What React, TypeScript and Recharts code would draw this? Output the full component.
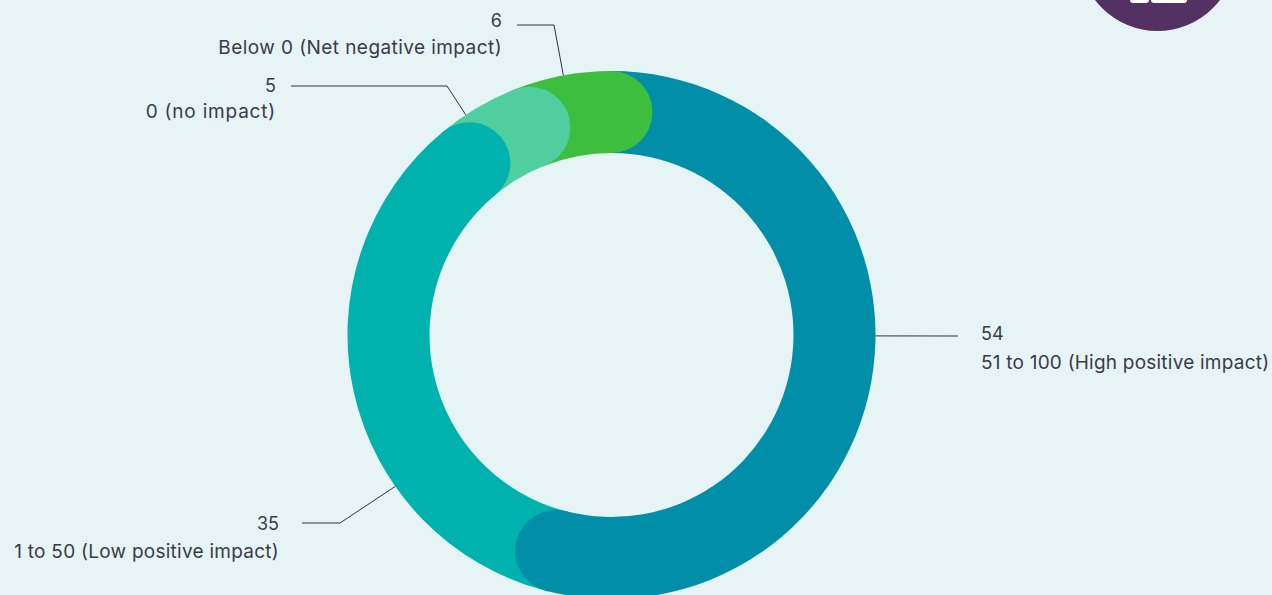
import { Pie, PieChart } from "recharts";

const impactLabels = [
  "51 to 100 (High positive impact)",
  "1 to 50 (Low positive impact)",
  "0 (no impact)",
  "Below 0 (Net negative impact)",
];
const impactValues = [54, 35, 5, 6];
const impactColors = ["#018ea8", "#00b2ae", "#51ce9f", "#3dbe3f"];

const WIDTH = 1272;
const HEIGHT = 595;
const CX = 611.5;
const CY = 335;
const INNER_RADIUS = 182;
const OUTER_RADIUS = 264;
const FONT = "Inter, sans-serif";
const TEXT_COLOR = "#3b3b47";

const chartData = impactLabels.map((name, i) => ({
  name,
  value: impactValues[i],
  fill: impactColors[i],
}));

// leader angle is in degrees clockwise from 12 o'clock
const labelLayouts = [
  { leaderAngle: 90.2, elbow: [958, 336], end: [958, 336], textX: 981, anchor: "start", valueY: 340, nameY: 369, nameSpacing: 0.22 },
  { leaderAngle: 235, elbow: [340, 523], end: [302, 523], textX: 279, anchor: "end", valueY: 530, nameY: 558, nameSpacing: 0.26 },
  { leaderAngle: 326.5, elbow: [447, 86], end: [291, 86], textX: 276, anchor: "end", valueY: 92, nameY: 118, nameSpacing: 0.8 },
  { leaderAngle: 349.5, elbow: [554, 25], end: [517, 25], textX: 502, anchor: "end", valueY: 27, nameY: 54, nameSpacing: 0.43 },
];

const toPoint = (cx: number, cy: number, radius: number, clockwiseDeg: number) => {
  const rad = (clockwiseDeg * Math.PI) / 180;
  return [cx + radius * Math.sin(rad), cy - radius * Math.cos(rad)];
};

// round end of a slice: a half disc past the end angle, with a sliver of overlap
// back into its own slice so no seam shows along the join
function RoundCap(props: any) {
  const { cx, cy, innerRadius, outerRadius, endAngle, fill } = props;
  const r = (outerRadius - innerRadius) / 2;
  const end = 90 - endAngle;
  const [ox, oy] = toPoint(cx, cy, outerRadius, end);
  const [ix, iy] = toPoint(cx, cy, innerRadius, end);
  const [obx, oby] = toPoint(cx, cy, outerRadius, end - 0.6);
  const [ibx, iby] = toPoint(cx, cy, innerRadius, end - 0.6);
  return (
    <path
      d={`M${obx},${oby} L${ox},${oy} A${r},${r} 0 0 1 ${ix},${iy} L${ibx},${iby} Z`}
      fill={fill}
    />
  );
}

function LeaderLabel(props: any) {
  const { cx, cy, outerRadius, index, name, value } = props;
  const layout = labelLayouts[index];
  const start = toPoint(cx, cy, outerRadius, layout.leaderAngle);
  const points = [start, layout.elbow, layout.end].map((p) => p.join(",")).join(" ");
  return (
    <g>
      <polyline points={points} fill="none" stroke="#33333f" strokeWidth={1} />
      <text x={layout.textX} y={layout.valueY} textAnchor={layout.anchor} fontFamily={FONT} fontSize={18} fill={TEXT_COLOR}>
        {value}
      </text>
      <text
        x={layout.textX}
        y={layout.nameY}
        textAnchor={layout.anchor}
        fontFamily={FONT}
        fontSize={19}
        letterSpacing={layout.nameSpacing}
        fill={TEXT_COLOR}
      >
        {name}
      </text>
    </g>
  );
}

export default function App() {
  return (
    <div
      style={{
        position: "absolute",
        left: 0,
        top: 0,
        width: WIDTH,
        height: HEIGHT,
        overflow: "hidden",
        background: "#e6f4f5",
      }}
    >
      <PieChart width={WIDTH} height={HEIGHT} margin={{ top: 0, right: 0, bottom: 0, left: 0 }}>
        <Pie
          data={chartData}
          dataKey="value"
          nameKey="name"
          cx={CX}
          cy={CY}
          innerRadius={INNER_RADIUS}
          outerRadius={OUTER_RADIUS}
          startAngle={90}
          endAngle={-270}
          stroke="none"
          isAnimationActive={false}
        />
        {/* caps go in a second pass so each one sits on top of the next slice */}
        <Pie
          data={chartData}
          dataKey="value"
          nameKey="name"
          cx={CX}
          cy={CY}
          innerRadius={INNER_RADIUS}
          outerRadius={OUTER_RADIUS}
          startAngle={90}
          endAngle={-270}
          stroke="none"
          shape={RoundCap}
          label={LeaderLabel}
          labelLine={false}
          isAnimationActive={false}
        />
      </PieChart>
      {/* logo badge, cut off by the top edge */}
      <svg width={WIDTH} height={HEIGHT} style={{ position: "absolute", left: 0, top: 0, pointerEvents: "none" }}>
        <circle cx={1157.5} cy={-47.5} r={78.5} fill="#533163" />
        <rect x={1130} y={-10} width={19} height={13} rx={3} fill="#ffffff" />
        <rect x={1151} y={-10} width={36} height={13} rx={3} fill="#ffffff" />
      </svg>
    </div>
  );
}
